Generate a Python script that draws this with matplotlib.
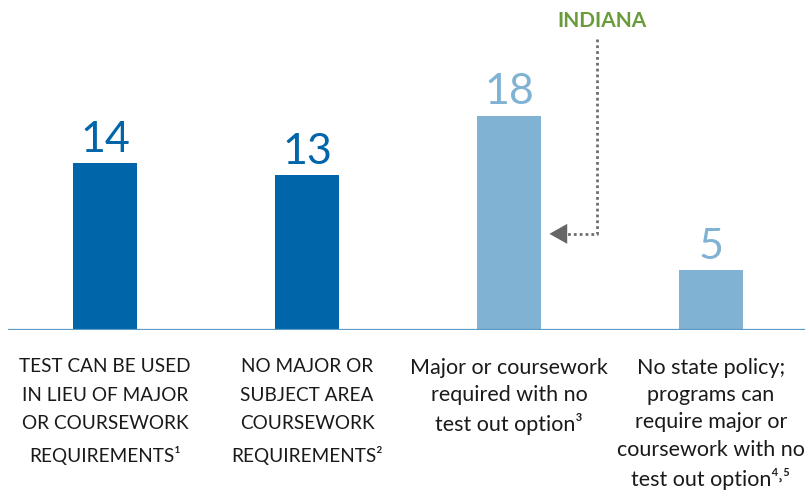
#!/usr/bin/env python3
"""Bar chart: number of states by subject-matter requirement policy."""

import matplotlib
matplotlib.use("Agg")
import matplotlib.pyplot as plt

categories = [
    "TEST CAN BE USED\nIN LIEU OF MAJOR\nOR COURSEWORK\nREQUIREMENTS¹",
    "NO MAJOR OR\nSUBJECT AREA\nCOURSEWORK\nREQUIREMENTS²",
    "Major or coursework\nrequired with no\ntest out option³",
    "No state policy;\nprograms can\nrequire major or\ncoursework with no\ntest out option⁴˒⁵",
]
values = [14, 13, 18, 5]
bar_colors = ["#0065a9", "#0065a9", "#80b2d3", "#80b2d3"]
callout_label = "INDIANA"
callout_index = 2

plt.rcParams["font.family"] = ["Lato", "DejaVu Sans"]

fig = plt.figure(figsize=(8.09, 4.96), dpi=100)
ax = fig.add_axes([8 / 809, 1 - 330 / 496, 797 / 809, 330 / 496])

x = list(range(len(values)))
ax.bar(x, values, width=0.317, color=bar_colors, zorder=2)

for xi, val, col in zip(x, values, bar_colors):
    ax.annotate(
        str(val),
        (xi, val),
        xytext=(0, 3),
        textcoords="offset points",
        ha="center",
        va="bottom",
        fontsize=31,
        color=col,
    )

for xi, label in zip(x, categories):
    caps = label.upper() == label
    ax.annotate(
        label,
        (xi, 0),
        xytext=(0, -20),
        textcoords="offset points",
        ha="center",
        va="top",
        fontsize=13.7 if caps else 15.5,
        color="#1a1a1a",
        linespacing=1.84 if caps else 1.46,
        annotation_clip=False,
    )

ax.set_xlim(-0.48, 3.465)
ax.set_ylim(0, 27.7)
ax.axhline(0, color="#5b9bc8", linewidth=1.6, zorder=3)

# callout: dotted elbow arrow to the third bar
cx = callout_index
ax.text(cx + 0.46, 25.9, callout_label, ha="center", va="center",
        fontsize=15, fontweight="bold", color="#6a9b3b")
ax.plot([cx + 0.435, cx + 0.435, cx + 0.26], [24.4, 8.07, 8.07],
        linestyle=(0, (1, 1.1)), color="#6e6e6e", linewidth=2, zorder=3)
ax.annotate(
    "",
    xy=(cx + 0.2, 8.07),
    xytext=(cx + 0.265, 8.07),
    arrowprops=dict(arrowstyle="-|>,head_length=0.8,head_width=0.45",
                    mutation_scale=16, color="#666666", linewidth=0,
                    shrinkA=0, shrinkB=0),
)

ax.set_axis_off()
fig.savefig("out.png", dpi=100, facecolor="white")
